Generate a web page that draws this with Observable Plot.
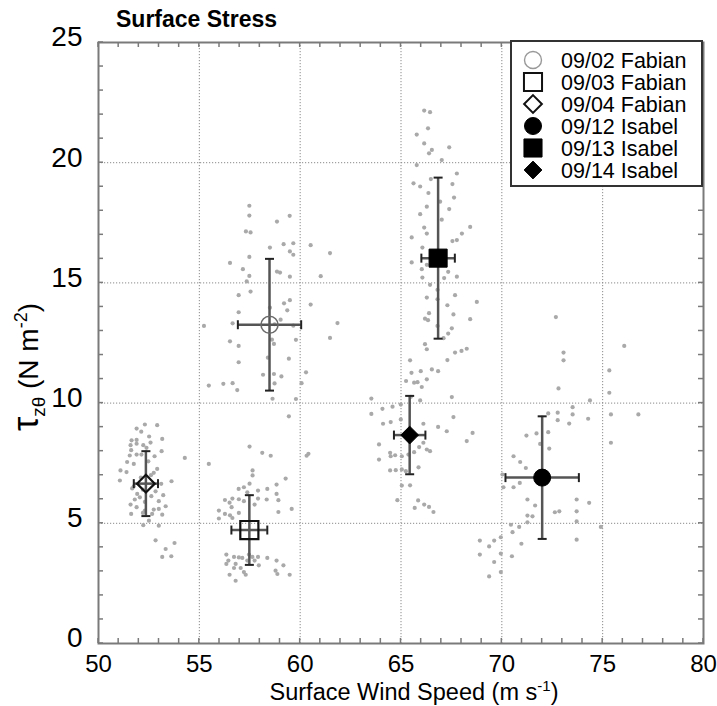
<!DOCTYPE html>
<html><head><meta charset="utf-8">
<script src="https://cdn.jsdelivr.net/npm/d3@7"></script>
<script src="https://cdn.jsdelivr.net/npm/@observablehq/plot@0.6"></script>
<style>body{margin:0;background:#fff;} svg{display:block;}</style>
</head><body><div id="chart"></div>
<script>
// ---- Data ----
const seriesLabels = ["09/02 Fabian", "09/03 Fabian", "09/04 Fabian", "09/12 Isabel", "09/13 Isabel", "09/14 Isabel"];
const seriesSymbols = ["circle", "square", "diamond2", "circle", "square", "diamond2"];
const seriesFilled = [false, false, false, true, true, true];
const meanWind   = [58.48, 57.48, 52.35, 72.00, 66.84, 65.43];
const meanStress = [13.26, 4.72, 6.65, 6.90, 16.03, 8.67];
const errWind    = [1.57, 0.89, 0.60, 1.82, 0.83, 0.78];
const errStress  = [2.74, 1.45, 1.35, 2.55, 3.35, 1.63];
const xTicks = [50, 55, 60, 65, 70, 75, 80];
const yTicks = [0, 5, 10, 15, 20, 25];
const minorXTicks = [50,51,52,53,54,55,56,57,58,59,60,61,62,63,64,65,66,67,68,69,70,71,72,73,74,75,76,77,78,79,80];
const minorYTicks = [0,1,2,3,4,5,6,7,8,9,10,11,12,13,14,15,16,17,18,19,20,21,22,23,24,25];

// individual samples [wind, stress]
const samples0904 = [[51.89,8.94],[52.30,9.11],[52.91,9.08],[52.12,8.81],[52.51,8.61],[53.16,8.51],[51.64,8.45],[51.89,8.47],[51.89,8.31],[51.59,8.25],[52.22,8.25],[52.58,8.36],[52.38,8.14],[51.62,8.04],[53.13,8.00],[51.89,7.86],[51.55,7.82],[52.13,7.86],[52.78,7.79],[51.42,7.55],[51.75,7.47],[52.47,7.58],[54.28,7.72],[51.09,7.20],[51.39,7.13],[52.91,7.26],[52.74,7.10],[51.06,6.78],[53.62,6.75],[51.75,6.54],[51.67,6.45],[53.11,6.64],[51.92,6.22],[52.83,6.33],[53.21,6.17],[51.80,5.99],[52.05,6.08],[52.62,6.13],[52.30,5.89],[52.99,5.92],[51.59,5.78],[51.89,5.67],[53.33,5.71],[52.30,5.53],[52.74,5.57],[52.99,5.60],[51.62,5.39],[52.20,5.43],[52.66,5.39],[53.16,5.36],[52.50,5.11],[52.22,4.92],[52.99,4.90],[52.83,4.29],[53.77,4.18],[53.33,3.93],[53.16,3.60],[53.61,3.63],[52.10,6.90],[52.60,7.00],[52.20,6.40]];
const samples0903 = [[55.47,7.47],[57.49,8.19],[58.12,7.93],[58.54,7.81],[60.32,7.81],[60.41,7.89],[57.64,7.20],[57.64,6.99],[59.28,6.86],[57.49,6.65],[57.21,6.50],[56.95,6.43],[58.83,6.61],[58.37,6.43],[57.91,6.36],[57.38,6.29],[58.83,6.22],[56.27,5.97],[56.50,5.86],[56.64,6.03],[56.96,6.00],[57.21,5.92],[57.74,5.78],[57.91,6.03],[58.34,5.99],[58.92,5.96],[56.60,5.67],[55.97,5.53],[56.27,5.39],[56.52,5.33],[56.96,5.43],[56.64,5.22],[55.97,5.20],[58.92,5.47],[59.58,5.60],[56.34,3.70],[56.72,3.60],[56.96,3.58],[57.13,3.56],[57.46,3.70],[57.63,3.60],[57.91,3.60],[58.37,3.56],[58.83,3.45],[56.44,3.45],[57.38,3.45],[57.74,3.45],[56.34,3.31],[56.80,3.31],[57.95,3.25],[59.17,3.25],[56.72,3.14],[57.05,3.14],[57.21,2.97],[58.78,3.03],[56.50,2.86],[57.30,2.86],[58.87,2.89],[59.48,2.86],[56.80,2.61]];
const samples0902 = [[57.48,18.21],[57.48,17.80],[59.48,17.79],[58.85,17.55],[57.31,17.14],[57.54,17.10],[58.50,16.47],[59.18,16.61],[59.66,16.65],[60.52,16.57],[59.49,16.31],[59.66,16.17],[61.48,16.24],[57.48,16.08],[56.52,15.83],[57.16,15.57],[58.85,15.47],[59.00,15.43],[57.48,15.29],[59.49,15.26],[61.02,15.28],[57.35,15.06],[57.54,14.64],[56.95,14.49],[60.52,14.10],[59.49,14.28],[59.20,14.15],[59.36,13.86],[58.50,13.97],[56.95,13.78],[56.65,13.32],[55.23,13.21],[59.03,13.47],[58.73,13.28],[59.66,13.22],[61.85,13.33],[61.48,12.71],[56.52,12.57],[56.95,12.38],[58.60,12.64],[58.70,12.46],[59.79,12.63],[56.95,11.70],[58.40,11.89],[59.44,11.85],[60.29,11.28],[58.16,11.18],[58.70,11.21],[59.07,11.11],[55.47,10.73],[56.19,10.80],[56.65,10.83],[56.88,10.54],[58.73,10.82],[60.07,10.83],[58.63,10.18],[59.79,10.17],[59.44,9.45]];
const samples0913 = [[66.15,22.17],[66.44,22.10],[66.34,21.43],[65.78,21.17],[66.15,20.80],[67.39,20.64],[66.53,20.53],[66.39,20.39],[67.02,20.11],[65.78,19.90],[67.77,19.55],[66.48,19.32],[65.62,19.14],[65.95,19.01],[67.55,19.11],[66.36,18.74],[67.63,18.55],[66.94,18.38],[66.28,18.17],[67.39,18.07],[65.95,17.86],[67.02,17.63],[68.43,17.33],[66.15,17.30],[66.28,17.05],[68.02,17.05],[65.53,16.89],[67.55,16.74],[67.77,16.78],[66.06,16.47],[65.53,15.85],[66.03,15.57],[66.28,15.75],[67.34,15.46],[66.06,15.22],[67.14,15.20],[67.77,15.26],[66.44,14.92],[66.81,14.71],[67.68,14.49],[66.28,14.39],[66.81,14.32],[68.76,14.21],[67.30,14.07],[66.39,13.74],[67.60,13.69],[66.19,13.51],[66.34,13.45],[68.43,13.49],[66.81,13.21],[67.52,13.11],[67.34,12.89],[67.11,12.70],[66.19,12.45],[66.28,12.24],[67.68,12.10],[68.00,12.17],[68.26,12.26],[67.30,11.79],[65.45,11.78],[65.52,11.26],[65.98,11.33],[66.53,11.40],[66.84,11.33],[65.25,10.92],[65.65,10.85],[65.82,10.87],[66.28,10.99],[66.03,10.67]];
const samples0914 = [[63.53,10.19],[64.08,9.76],[64.58,9.85],[64.99,9.94],[65.49,10.26],[65.95,10.11],[67.52,10.25],[63.53,9.55],[64.49,9.21],[64.11,9.14],[64.99,9.32],[66.11,9.14],[66.84,9.01],[67.60,9.42],[67.27,8.83],[68.55,8.76],[68.26,8.42],[63.91,8.28],[66.11,8.35],[65.90,8.17],[65.65,7.96],[66.28,8.07],[66.44,8.00],[64.46,7.93],[64.71,7.83],[65.04,7.79],[65.37,7.86],[63.91,7.65],[64.49,7.79],[65.87,7.33],[64.46,7.20],[64.74,7.21],[65.04,7.24],[65.24,7.17],[65.04,6.57],[65.45,6.58],[64.82,5.96],[65.85,5.95],[65.68,5.64],[66.15,5.78],[66.39,5.68],[66.61,5.47]];
const samples0912 = [[72.68,13.58],[73.06,12.10],[73.06,11.78],[76.07,12.38],[75.33,11.36],[72.81,10.61],[75.33,10.43],[74.37,10.11],[73.51,9.83],[75.41,9.53],[76.77,9.53],[72.30,9.57],[72.77,9.60],[73.51,9.53],[72.77,9.29],[73.34,9.15],[74.28,9.35],[71.72,8.74],[72.30,8.79],[71.22,8.65],[75.41,8.35],[72.35,8.11],[71.90,8.30],[70.58,7.79],[70.91,7.55],[71.19,7.30],[70.03,7.03],[70.58,6.50],[70.89,6.68],[70.08,6.50],[71.27,5.99],[73.71,5.99],[74.33,5.85],[71.65,5.74],[73.71,5.50],[72.63,5.46],[72.85,5.50],[71.27,5.32],[71.52,5.29],[73.71,5.08],[74.91,4.85],[70.45,4.94],[70.86,4.85],[71.27,5.04],[70.53,4.63],[69.95,4.42],[69.62,4.28],[68.91,4.28],[70.97,4.15],[69.37,4.04],[73.71,4.32],[69.95,3.74],[68.91,3.70],[70.50,3.63],[69.62,3.39],[69.95,2.97],[69.37,2.79]];

const allSamples = [samples0902, samples0903, samples0904, samples0912, samples0913, samples0914]
  .flatMap((arr, k) => arr.map(([w, s]) => ({wind: w, stress: s, series: seriesLabels[k]})));

const means = seriesLabels.map((label, i) => ({
  label, wind: meanWind[i], stress: meanStress[i], ew: errWind[i], es: errStress[i],
  symbol: seriesSymbols[i], filled: seriesFilled[i]
}));

// custom cap symbols for error bars
const capH = {draw(ctx) { ctx.moveTo(-4.5, 0); ctx.lineTo(4.5, 0); }};
const capV = {draw(ctx) { ctx.moveTo(0, -4.5); ctx.lineTo(0, 4.5); }};

const markerR = {circle: 8.5, square: 10.2, diamond2: 8.0};

const W = 717, H = 706;
const axisGray = "#7a7a7a";
const font = "'Liberation Sans', Arial, Helvetica, sans-serif";

const marks = [
  Plot.gridX(xTicks.slice(1, -1), {stroke: "#8a8a8a", strokeOpacity: 1, strokeWidth: 1, strokeDasharray: "1.2,1.8"}),
  Plot.gridY(yTicks.slice(1, -1), {stroke: "#8a8a8a", strokeOpacity: 1, strokeWidth: 1, strokeDasharray: "1.2,1.8"}),
  // tick labels
  Plot.axisX(xTicks, {anchor: "bottom", tickSize: 0, tickPadding: 11, fontSize: 24, fill: "#000", label: null}),
  Plot.axisY(yTicks, {anchor: "left", tickSize: 0, tickPadding: 16, fontSize: 28, fill: "#000", dy: -5, label: null}),
  // samples
  Plot.dot(allSamples, {x: "wind", y: "stress", r: 2.1, fill: "#a9a9a9", stroke: null}),
  // error bars
  Plot.ruleX(means, {x: "wind", y1: d => d.stress - d.es, y2: d => d.stress + d.es, stroke: "#555", strokeWidth: 2.5}),
  Plot.ruleY(means, {y: "stress", x1: d => d.wind - d.ew, x2: d => d.wind + d.ew, stroke: "#555", strokeWidth: 2.5}),
  Plot.dot(means, {x: "wind", y: d => d.stress + d.es, symbol: capH, stroke: "#222", strokeWidth: 2}),
  Plot.dot(means, {x: "wind", y: d => d.stress - d.es, symbol: capH, stroke: "#222", strokeWidth: 2}),
  Plot.dot(means, {x: d => d.wind + d.ew, y: "stress", symbol: capV, stroke: "#222", strokeWidth: 2}),
  Plot.dot(means, {x: d => d.wind - d.ew, y: "stress", symbol: capV, stroke: "#222", strokeWidth: 2}),
  // mean markers
  ...means.map((m, i) => Plot.dot([m], {
    x: "wind", y: "stress", symbol: m.symbol, r: markerR[m.symbol],
    fill: m.filled ? "#000" : "none",
    stroke: m.filled ? "#000" : (i === 0 ? "#6a6a6a" : "#111"),
    strokeWidth: m.filled ? 1 : (i === 0 ? 1.6 : 2.2)
  })),
  Plot.frame({stroke: axisGray, strokeWidth: 2})
];

const svgPlot = Plot.plot({
  width: W, height: H,
  marginLeft: 98, marginRight: 14, marginTop: 42, marginBottom: 63,
  x: {domain: [50, 80], axis: null},
  y: {domain: [0, 25], axis: null},
  style: {fontFamily: font, background: "#fff", overflow: "visible"},
  marks
});

document.getElementById("chart").appendChild(svgPlot);

const svg = d3.select(svgPlot);
const xs = svgPlot.scale("x"), ys = svgPlot.scale("y");
const [xl, xr] = [xs.apply(50), xs.apply(80)];
const [yb, ytop] = [ys.apply(0), ys.apply(25)];
const TL = 5;

// inward minor ticks on all four sides (positions through Plot's scales)
const tg = svg.append("g").attr("stroke", axisGray).attr("stroke-width", 1.5);
minorXTicks.forEach(v => {
  const px = xs.apply(v);
  tg.append("line").attr("x1", px).attr("x2", px).attr("y1", yb).attr("y2", yb - TL);
  tg.append("line").attr("x1", px).attr("x2", px).attr("y1", ytop).attr("y2", ytop + TL);
});
minorYTicks.forEach(v => {
  const py = ys.apply(v);
  tg.append("line").attr("y1", py).attr("y2", py).attr("x1", xl).attr("x2", xl + TL);
  tg.append("line").attr("y1", py).attr("y2", py).attr("x1", xr).attr("x2", xr - TL);
});

// title
svg.append("text").attr("x", 116).attr("y", 27).attr("text-anchor", "start")
  .attr("font-family", font).attr("font-size", 23).attr("font-weight", "bold").attr("fill", "#000")
  .text("Surface Stress");

// x-axis title with superscript
const xt = svg.append("text").attr("x", 414).attr("y", 700).attr("text-anchor", "middle")
  .attr("font-family", font).attr("font-size", 23.5).attr("fill", "#000");
xt.append("tspan").text("Surface Wind Speed (m s");
xt.append("tspan").attr("dy", -9).attr("font-size", 15).text("-1");
xt.append("tspan").attr("dy", 9).text(")");

// y-axis title with subscript and superscript
const yt = svg.append("text").attr("transform", "translate(38,367) rotate(-90)").attr("text-anchor", "middle")
  .attr("font-family", font).attr("font-size", 28).attr("fill", "#000");
yt.append("tspan").attr("font-size", 36).text("τ");
yt.append("tspan").attr("dy", 7).attr("font-size", 19).text("zθ");
yt.append("tspan").attr("dy", -7).text(" (N m");
yt.append("tspan").attr("dy", -11).attr("font-size", 18).text("-2");
yt.append("tspan").attr("dy", 11).text(")");

// legend
const lg = svg.append("g");
lg.append("rect").attr("x", 511).attr("y", 41).attr("width", 191).attr("height", 145)
  .attr("fill", "#fff").attr("stroke", "#333").attr("stroke-width", 2);
const symMap = {circle: d3.symbolCircle, square: d3.symbolSquare, diamond2: d3.symbolDiamond2};
seriesLabels.forEach((label, i) => {
  const yy = 60 + i * 22;
  const r = markerR[seriesSymbols[i]];
  lg.append("path").attr("transform", `translate(533,${yy})`)
    .attr("d", d3.symbol(symMap[seriesSymbols[i]], r * r * Math.PI)())
    .attr("fill", seriesFilled[i] ? "#000" : "none")
    .attr("stroke", seriesFilled[i] ? "#000" : (i === 0 ? "#999" : "#111"))
    .attr("stroke-width", seriesFilled[i] ? 1 : (i === 0 ? 1.4 : 2));
  lg.append("text").attr("x", 561).attr("y", yy).attr("dy", "0.36em").attr("text-anchor", "start")
    .attr("font-family", font).attr("font-size", 21.5).attr("fill", "#000").text(label);
});
</script></body></html>
